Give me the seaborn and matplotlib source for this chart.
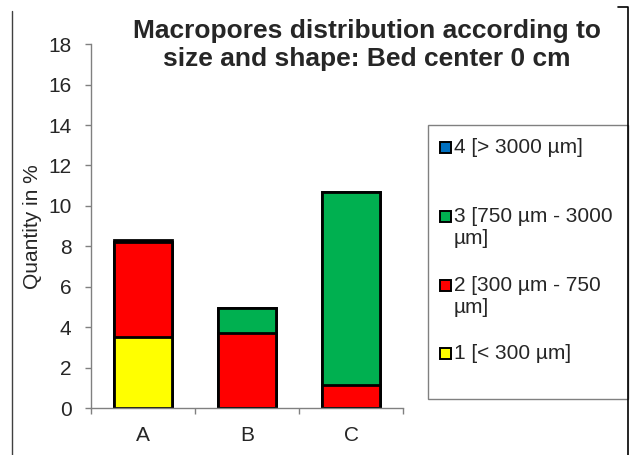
import matplotlib
matplotlib.use("Agg")
import matplotlib.pyplot as plt
import seaborn as sns
import pandas as pd
from matplotlib.patches import Rectangle
from matplotlib.lines import Line2D

# values (quantity in %)
samples = ["A", "B", "C"]
size_1 = [3.5, 0.0, 0.0]    # < 300 um
size_2 = [4.7, 3.7, 1.15]   # 300 - 750 um
size_3 = [0.0, 1.25, 9.55]  # 750 - 3000 um
size_4 = [0.12, 0.0, 0.0]   # > 3000 um
class_labels = ["1 [< 300 µm]", "2 [300 µm - 750\nµm]",
                "3 [750 µm - 3000\nµm]", "4 [> 3000 µm]"]
class_colors = ["#FFFF00", "#FF0000", "#00B050", "#0070C0"]

sns.set_style("white")
plt.rcParams["font.family"] = ["Liberation Sans", "DejaVu Sans"]
FS = 15

df = pd.DataFrame({"sample": samples, "c1": size_1, "c2": size_2,
                   "c3": size_3, "c4": size_4})
cols = ["c1", "c2", "c3", "c4"]
cum = df[cols].cumsum(axis=1)

fig = plt.figure(figsize=(6.31, 4.55), dpi=100)
ax = fig.add_axes([0.144, 0.103, 0.495, 0.800])

# stacked bars: draw cumulative totals from the top class down
for i in range(3, -1, -1):
    sns.barplot(x=df["sample"], y=cum[cols[i]], color=class_colors[i],
                width=0.56, edgecolor="black", linewidth=2, saturation=1,
                ax=ax, zorder=2)

ax.set_ylim(0, 18)
ax.set_yticks(range(0, 19, 2))
ax.set_xlim(-0.5, 2.5)
ax.set_xticks([-0.5, 0.5, 1.5, 2.5])
ax.set_xticklabels([])
ax.set_xticks([0, 1, 2], minor=True)
ax.set_xticklabels(samples, minor=True)
ax.tick_params(axis="x", which="minor", length=0, pad=13, labelsize=FS)
ax.tick_params(axis="x", which="major", direction="out", length=4,
               width=1, color="#808080", bottom=True)
ax.tick_params(axis="y", direction="out", length=4, width=1,
               color="#808080", left=True, labelsize=FS, pad=10)
ax.set_xlabel("")
ax.set_ylabel("Quantity in %", fontsize=FS, labelpad=4)
for s in ["top", "right"]:
    ax.spines[s].set_visible(False)
for s in ["left", "bottom"]:
    ax.spines[s].set_color("#808080")
    ax.spines[s].set_linewidth(1)

fig.text(0.581, 0.901, "Macropores distribution according to\nsize and shape: Bed center 0 cm",
         ha="center", va="center", fontsize=19, fontweight="bold",
         linespacing=1.2)

# legend box drawn like the spreadsheet one
W, H = 631.0, 455.0
fig.patches.append(Rectangle((428 / W, 1 - 399 / H), 200 / W, 274 / H,
                             transform=fig.transFigure, fill=False,
                             edgecolor="#808080", linewidth=1))
entry_y = [353, 285, 216, 147]
for i in range(4):
    y = entry_y[i]
    fig.patches.append(Rectangle((440 / W, 1 - (y + 6) / H), 11 / W, 11 / H,
                                 transform=fig.transFigure,
                                 facecolor=class_colors[i],
                                 edgecolor="black", linewidth=1.4))
    fig.text(454 / W, 1 - (y - 9) / H, class_labels[i], ha="left", va="top",
             fontsize=FS, linespacing=1.2)

# outer chart frame
fig.lines.append(Line2D([12 / W, 12 / W], [0, 1 - 11 / H],
                        transform=fig.transFigure, color="#404040", lw=1))
fig.lines.append(Line2D([618 / W, 628 / W, 628 / W], [1 - 7 / H, 1 - 7 / H, 0],
                        transform=fig.transFigure, color="black", lw=1.2))

fig.savefig("out.png", dpi=100)
